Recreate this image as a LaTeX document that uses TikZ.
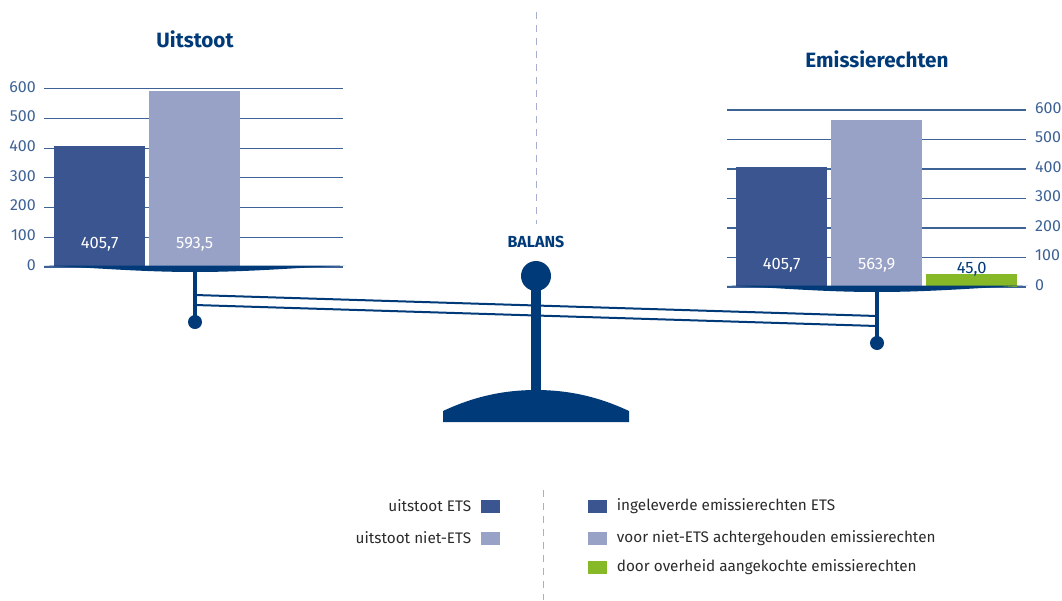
\documentclass[tikz,border=0pt]{standalone}
\usepackage{fontspec}
\setmainfont{Fira Sans}
\usetikzlibrary{positioning}
\definecolor{navy}{HTML}{003A78}
\definecolor{etsblue}{HTML}{3A5590}
\definecolor{nietets}{HTML}{98A2C7}
\definecolor{govgreen}{HTML}{86B828}
\definecolor{gridblue}{HTML}{3D6296}
\definecolor{dashgrey}{HTML}{A8AED0}
\definecolor{legtxt}{HTML}{2B2B2B}

\begin{document}
\begin{tikzpicture}[x=1pt,y=-1pt,
    every node/.style={font=\fontsize{15.3}{17}\selectfont},
    bar/.style={inner sep=0pt,anchor=south west,minimum width=91pt},
    val/.style={text=white,inner sep=0pt,font=\fontsize{16.5}{18}\selectfont},
    tick/.style={text=gridblue,inner sep=0pt,font=\fontsize{16}{18}\selectfont},
    grid/.style={gridblue,line width=1.1pt},
    title/.style={text=navy,font=\fontsize{20.7}{24}\selectfont\bfseries},
    key/.style={inner sep=0pt,minimum width=19pt,minimum height=13pt},
    legtext/.style={text=legtxt,inner sep=0pt},
    beam/.style={navy,line width=2pt},
    stem/.style={navy,line width=4pt},
    knob/.style={circle,fill=navy,inner sep=0pt}]
  \useasboundingbox (0,0) rectangle (1062,600);

  % central dashed dividers
  \draw[dashgrey,line width=1pt,dash pattern=on 7pt off 6pt] (536,12) -- (536,224);
  \draw[dashgrey,line width=1pt,dash pattern=on 7pt off 6pt] (543,490) -- (543,600);

  % titles
  \node[title] (uitstoot) at (195,39) {Uitstoot};
  \node[title] (emissie) at (877,59) {Emissierechten};
  \node[title,font=\fontsize{16}{18}\selectfont\bfseries] (balans) at (536,242) {BALANS};

  % beam between the pans
  \coordinate (lb1) at (195,295);
  \coordinate (lb2) at (195,305);
  \coordinate (rb1) at (877,316);
  \coordinate (rb2) at (877,326);
  \draw[beam] (lb1) -- (rb1);
  \draw[beam] (lb2) -- (rb2);

  % left chart
  \foreach \v in {0,100,...,600}{
    \draw[grid] (44,{267-0.297*\v}) -- (343,{267-0.297*\v});
    \node[tick,anchor=east] (lt\v) at (36,{265-0.297*\v}) {\v};
  }
  \node[bar,fill=etsblue,minimum height=120.5pt] (lets) at (54,267) {};
  \node[bar,fill=nietets,minimum height=176.3pt] (lniet) at (149,267) {};
  \node[val,above=16pt of lets.south] (letsval) {405,7};
  \node[val,above=16pt of lniet.south] (lnietval) {593,5};
  \fill[navy] (44,265.5) -- (345,265.5) .. controls (300,267.5) and (250,272) .. (195,272)
    .. controls (140,272) and (90,267.5) .. (44,265.5);
  \draw[stem] (195,268) -- (195,316);
  \node[knob,minimum size=14pt] (lpan) at (195,322) {};

  % right chart
  \foreach \v in {0,100,...,600}{
    \draw[grid] (727,{287-0.295*\v}) -- (1026,{287-0.295*\v});
    \node[tick,anchor=west] (rt\v) at (1035,{285-0.295*\v}) {\v};
  }
  \node[bar,fill=etsblue,minimum height=119.7pt] (rets) at (736,287) {};
  \node[bar,fill=nietets,minimum height=166.4pt] (rniet) at (831,287) {};
  \node[bar,fill=govgreen,minimum height=13.3pt] (rgov) at (926,287) {};
  \node[val,above=15pt of rets.south] (retsval) {405,7};
  \node[val,above=15pt of rniet.south] (rnietval) {563,9};
  \node[val,text=navy,above=11pt of rgov.south] (rgovval) {45,0};
  \fill[navy] (727,285.5) -- (1028,285.5) .. controls (982,287.5) and (932,292) .. (877,292)
    .. controls (822,292) and (772,287.5) .. (727,285.5);
  \draw[stem] (877,288) -- (877,337);
  \node[knob,minimum size=14pt] (rpan) at (877,343) {};

  % pillar
  \fill[navy] (531,276) rectangle (541,392);
  \node[knob,minimum size=30pt] (pivot) at (536,276) {};
  \fill[navy] (443,422) -- (443,411) .. controls (475,396) and (505,390) .. (536,390)
    .. controls (567,390) and (597,396) .. (629,411) -- (629,422) -- cycle;

  % legend
  \node[key,fill=etsblue] (kets) at (490,506) {};
  \node[key,fill=nietets] (kniet) at (490,538) {};
  \node[legtext,left=9pt of kets] (tets) {uitstoot ETS};
  \node[legtext,left=9pt of kniet] (tniet) {uitstoot niet-ETS};
  \node[key,fill=etsblue] (king) at (597,506) {};
  \node[key,fill=nietets] (kvoor) at (597,538) {};
  \node[key,fill=govgreen] (kdoor) at (597,567) {};
  \node[legtext,right=10pt of king] (ting) {ingeleverde emissierechten ETS};
  \node[legtext,right=10pt of kvoor] (tvoor) {voor niet-ETS achtergehouden emissierechten};
  \node[legtext,right=10pt of kdoor] (tdoor) {door overheid aangekochte emissierechten};
\end{tikzpicture}
\end{document}
